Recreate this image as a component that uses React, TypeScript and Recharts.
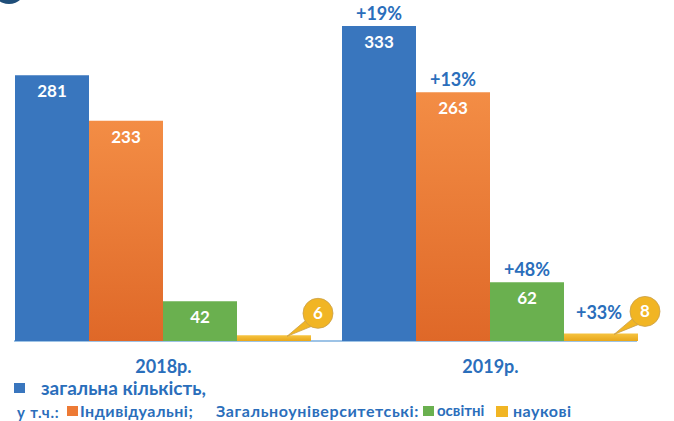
import React from 'react'
import { BarChart, Bar, XAxis, YAxis, LabelList } from 'recharts'

const YEARS = ['2018р.', '2019р.']
const TOTAL = [281, 333]
const INDIVIDUAL = [233, 263]
const EDUCATIONAL = [42, 62]
const SCIENTIFIC = [6, 8]
const GROWTH_2019 = ['+19%', '+13%', '+48%', '+33%']

const FONT = 'Lato, "Open Sans", sans-serif'
const TEXT_BLUE = '#2a6ebb'

const COLORS = {
  total: '#3976be',
  individual: '#ed7a35',
  educational: '#6ab04f',
  scientific: '#f1b524',
}

const data = YEARS.map((year, i) => ({
  year,
  total: TOTAL[i],
  individual: INDIVIDUAL[i],
  educational: EDUCATIONAL[i],
  scientific: SCIENTIFIC[i],
}))

// white value inside the bar, plus growth % above the 2019 bar
const makeLabel = (seriesIdx: number) => (props: any) => {
  const { x, y, width, value, index } = props
  const cx = x + width / 2
  return (
    <g>
      <text x={cx} y={y + 22} textAnchor="middle" fill="#fff" fontSize={17} fontWeight={700} fontFamily={FONT}>
        {value}
      </text>
      {index === 1 && (
        <text x={cx} y={y - 6} textAnchor="middle" fill={TEXT_BLUE} fontSize={18} fontWeight={700} fontFamily={FONT}>
          {GROWTH_2019[seriesIdx]}
        </text>
      )}
    </g>
  )
}

// callout bubble for the small yellow bars
const calloutLabel = (props: any) => {
  const { x, y, value, index } = props
  const tipX = x + 50
  const tipY = y + 1
  const cx = x + 81
  const cy = y - 22
  const r = 15
  return (
    <g>
      <path
        d={`M${tipX},${tipY} L${cx - 11},${cy + 6} L${cx - 4},${cy + 12} Z`}
        fill="#f1b524"
        stroke="#c9a04a"
        strokeWidth={0.8}
      />
      <circle cx={cx} cy={cy} r={r} fill="#f1b524" stroke="#c9a04a" strokeWidth={0.8} />
      <path d={`M${cx - 10.5},${cy + 5.5} L${cx - 4.5},${cy + 11.5}`} stroke="#f1b524" strokeWidth={2} />
      <text x={cx} y={cy + 6} textAnchor="middle" fill="#fff" fontSize={17} fontWeight={700} fontFamily={FONT}>
        {value}
      </text>
      {index === 1 && (
        <text x={x + 35} y={y - 14} textAnchor="middle" fill={TEXT_BLUE} fontSize={18} fontWeight={700} fontFamily={FONT}>
          {GROWTH_2019[3]}
        </text>
      )}
    </g>
  )
}

const legendText: React.CSSProperties = {
  position: 'absolute',
  color: TEXT_BLUE,
  fontFamily: FONT,
  fontWeight: 700,
  whiteSpace: 'nowrap',
  lineHeight: 1,
}

const square = (left: number, top: number, color: string, size = 10): React.CSSProperties => ({
  position: 'absolute',
  left,
  top,
  width: size + 1,
  height: size,
  background: color,
})

export default function App() {
  return (
    <div style={{ position: 'absolute', left: 0, top: 0, width: 674, height: 421, background: '#fff', overflow: 'hidden' }}>
      <div style={{ position: 'absolute', left: -8, top: -30, width: 34, height: 34, borderRadius: '50%', background: '#1f4e79' }} />
      <div style={{ position: 'absolute', left: 14, top: 340, width: 623, height: 1.5, background: '#9dc3e6' }} />
      <BarChart
        width={674}
        height={421}
        data={data}
        margin={{ top: 10, right: 20, bottom: 50, left: 0 }}
        barCategoryGap={15}
        barGap={0}
      >
        <defs>
          <linearGradient id="gOrange" x1="0" y1="0" x2="0" y2="1">
            <stop offset="0%" stopColor="#f38d45" />
            <stop offset="100%" stopColor="#df6828" />
          </linearGradient>
          <linearGradient id="gYellow" x1="0" y1="0" x2="0" y2="1">
            <stop offset="0%" stopColor="#f6c440" />
            <stop offset="100%" stopColor="#e8a71b" />
          </linearGradient>
        </defs>
        <XAxis
          dataKey="year"
          height={30}
          axisLine={false}
          tickLine={false}
          tickMargin={13}
          tick={{ fill: TEXT_BLUE, fontSize: 18, fontWeight: 700, fontFamily: FONT }}
        />
        <YAxis hide domain={[0, 350]} />
        <Bar dataKey="total" fill={COLORS.total} isAnimationActive={false}>
          <LabelList dataKey="total" content={makeLabel(0)} />
        </Bar>
        <Bar dataKey="individual" fill="url(#gOrange)" isAnimationActive={false}>
          <LabelList dataKey="individual" content={makeLabel(1)} />
        </Bar>
        <Bar dataKey="educational" fill={COLORS.educational} isAnimationActive={false}>
          <LabelList dataKey="educational" content={makeLabel(2)} />
        </Bar>
        <Bar dataKey="scientific" fill="url(#gYellow)" isAnimationActive={false}>
          <LabelList dataKey="scientific" content={calloutLabel} />
        </Bar>
      </BarChart>

      <div style={square(14, 383, COLORS.total)} />
      <span style={{ ...legendText, left: 41, top: 378, fontSize: 19 }}>загальна кількість,</span>

      <span style={{ ...legendText, left: 17, top: 405, fontSize: 15, letterSpacing: 0.8 }}>у т.ч.:</span>
      <div style={square(67, 406, COLORS.individual)} />
      <span style={{ ...legendText, left: 80, top: 403, fontSize: 16, letterSpacing: 0.5 }}>Індивідуальні;</span>
      <span style={{ ...legendText, left: 216, top: 403, fontSize: 16, letterSpacing: 0.6 }}>Загальноуніверситетські:</span>
      <div style={square(423, 406, COLORS.educational)} />
      <span style={{ ...legendText, left: 437, top: 403, fontSize: 15 }}>освітні</span>
      <div style={square(496, 406, COLORS.scientific, 11)} />
      <span style={{ ...legendText, left: 513, top: 403, fontSize: 16, letterSpacing: 0.5 }}>наукові</span>
    </div>
  )
}
